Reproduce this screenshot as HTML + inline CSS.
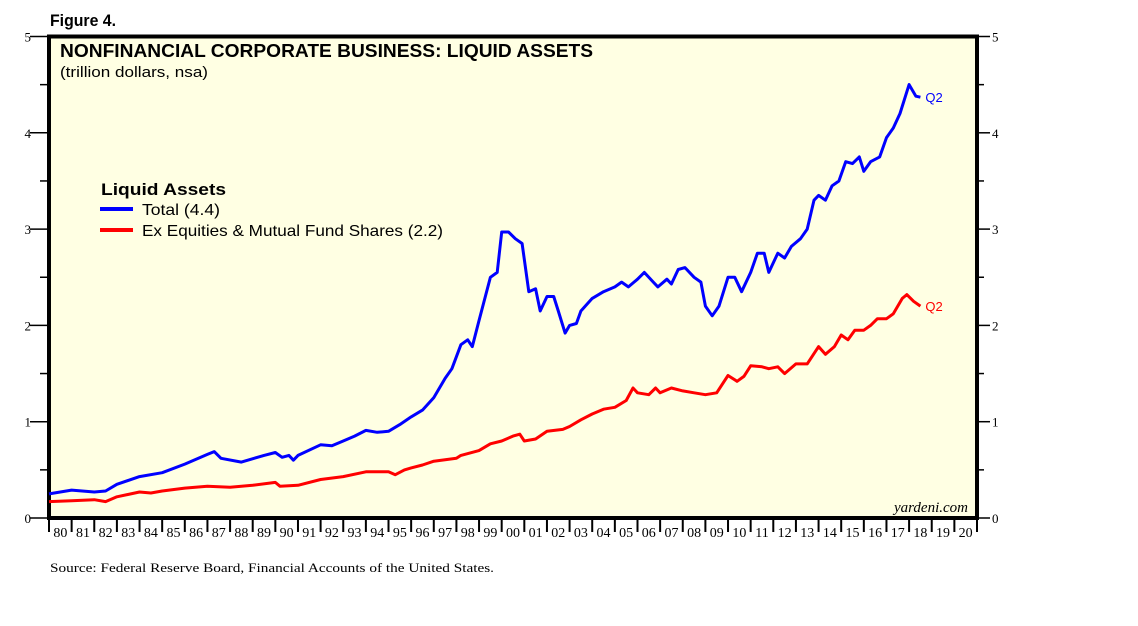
<!DOCTYPE html>
<html><head><meta charset="utf-8"><style>
body{margin:0;background:#fff;width:1138px;height:621px;overflow:hidden;font-family:"Liberation Sans",sans-serif}
svg text{font-family:"Liberation Sans",sans-serif}
.serif{font-family:"Liberation Serif",serif}
</style></head><body>
<svg id="chart" width="1138" height="621">
<text x="50" y="26" font-size="17" font-weight="bold" textLength="66" lengthAdjust="spacingAndGlyphs">Figure 4.</text>
<rect x="49" y="36.5" width="928" height="481.5" fill="#ffffe3" stroke="#000" stroke-width="4"/>
<text x="60" y="57" font-size="18" font-weight="bold" textLength="533" lengthAdjust="spacingAndGlyphs">NONFINANCIAL CORPORATE BUSINESS: LIQUID ASSETS</text>
<text x="60" y="77" font-size="15" textLength="148" lengthAdjust="spacingAndGlyphs">(trillion dollars, nsa)</text>
<text x="101" y="195" font-size="17" font-weight="bold" textLength="125" lengthAdjust="spacingAndGlyphs">Liquid Assets</text>
<line x1="100" y1="209" x2="133" y2="209" stroke="#0000ff" stroke-width="4"/>
<text x="142" y="215" font-size="16" textLength="78" lengthAdjust="spacingAndGlyphs">Total (4.4)</text>
<line x1="100" y1="230" x2="133" y2="230" stroke="#ff0000" stroke-width="4"/>
<text x="142" y="236" font-size="16" textLength="301" lengthAdjust="spacingAndGlyphs">Ex Equities &amp; Mutual Fund Shares (2.2)</text>
<text x="968" y="512" font-size="15" font-style="italic" text-anchor="end" class="serif">yardeni.com</text>
<text x="50" y="572" font-size="13" class="serif" textLength="444" lengthAdjust="spacingAndGlyphs">Source: Federal Reserve Board, Financial Accounts of the United States.</text>
<g id="axes"></g>
<g id="series"></g>
</svg>
<script>
const yTicks=[0,1,2,3,4,5];
const yearLabels=["80","81","82","83","84","85","86","87","88","89","90","91","92","93","94","95","96","97","98","99","00","01","02","03","04","05","06","07","08","09","10","11","12","13","14","15","16","17","18","19","20"];
const totalDates=[1980,1981,1982,1982.5,1983,1984,1985,1986,1987,1987.3,1987.6,1988.5,1989.5,1990,1990.3,1990.6,1990.8,1991,1992,1992.5,1993,1993.5,1994,1994.5,1995,1995.5,1996,1996.5,1997,1997.5,1997.8,1998.2,1998.5,1998.7,1999,1999.5,1999.8,2000,2000.3,2000.6,2000.9,2001.2,2001.5,2001.7,2002,2002.3,2002.5,2002.8,2003,2003.3,2003.5,2004,2004.5,2005,2005.3,2005.6,2006,2006.3,2006.7,2006.9,2007.3,2007.5,2007.8,2008.1,2008.5,2008.8,2009,2009.3,2009.6,2010,2010.3,2010.6,2011,2011.3,2011.6,2011.8,2012.2,2012.5,2012.8,2013.2,2013.5,2013.8,2014,2014.3,2014.6,2014.9,2015.2,2015.5,2015.8,2016,2016.3,2016.7,2017,2017.3,2017.6,2018,2018.3,2018.5];
const totalValues=[0.25,0.29,0.27,0.28,0.35,0.43,0.47,0.56,0.66,0.69,0.62,0.58,0.65,0.68,0.63,0.65,0.60,0.65,0.76,0.75,0.80,0.85,0.91,0.89,0.90,0.97,1.05,1.12,1.25,1.45,1.55,1.80,1.85,1.78,2.05,2.50,2.55,2.97,2.97,2.90,2.85,2.35,2.38,2.15,2.30,2.30,2.15,1.92,2.00,2.02,2.15,2.28,2.35,2.40,2.45,2.40,2.48,2.55,2.45,2.40,2.48,2.43,2.58,2.60,2.50,2.45,2.20,2.10,2.20,2.50,2.50,2.35,2.55,2.75,2.75,2.55,2.75,2.70,2.82,2.90,3.00,3.30,3.35,3.30,3.45,3.50,3.70,3.68,3.75,3.60,3.70,3.75,3.95,4.05,4.20,4.50,4.38,4.37];
const exDates=[1980,1981,1982,1982.5,1983,1984,1984.5,1985,1986,1987,1988,1989,1990,1990.2,1991,1992,1993,1994,1995,1995.3,1995.7,1996,1996.5,1997,1998,1998.2,1999,1999.5,2000,2000.5,2000.8,2001,2001.5,2002,2002.7,2003,2003.5,2004,2004.5,2005,2005.5,2005.8,2006,2006.5,2006.8,2007,2007.5,2008,2008.5,2009,2009.5,2010,2010.4,2010.7,2011,2011.5,2011.8,2012.2,2012.5,2013,2013.5,2014,2014.3,2014.7,2015,2015.3,2015.6,2016,2016.3,2016.6,2017,2017.3,2017.7,2017.9,2018.2,2018.5];
const exValues=[0.17,0.18,0.19,0.17,0.22,0.27,0.26,0.28,0.31,0.33,0.32,0.34,0.37,0.33,0.34,0.40,0.43,0.48,0.48,0.45,0.50,0.52,0.55,0.59,0.62,0.65,0.70,0.77,0.80,0.85,0.87,0.80,0.82,0.90,0.92,0.95,1.02,1.08,1.13,1.15,1.22,1.35,1.30,1.28,1.35,1.30,1.35,1.32,1.30,1.28,1.30,1.48,1.42,1.47,1.58,1.57,1.55,1.57,1.50,1.60,1.60,1.78,1.70,1.78,1.90,1.85,1.95,1.95,2.00,2.07,2.07,2.12,2.28,2.32,2.25,2.20];

const NS="http://www.w3.org/2000/svg";
const X0=49,X1=977,Y0=518,Y1=36.5,T0=1980,T1=2021;
function xs(t){return X0+(t-T0)/(T1-T0)*(X1-X0);}
function ys(v){return Y0-v/5*(Y0-Y1);}
function mk(tag,attrs,parent){const e=document.createElementNS(NS,tag);for(const k in attrs)e.setAttribute(k,attrs[k]);parent.appendChild(e);return e;}
const ax=document.getElementById('axes');
yTicks.forEach(v=>{
  const y=ys(v);
  let l=mk('line',{x1:30,x2:47,y1:y,y2:y,stroke:'#000','stroke-width':1.5},ax);
  
  
  let r=mk('line',{x1:979,x2:990,y1:y,y2:y,stroke:'#000','stroke-width':1.5},ax);
  
  
  let t=mk('text',{x:31,y:y+5,'font-size':13,'text-anchor':'end',class:'serif'},ax);t.textContent=v;
  
  
  let t2=mk('text',{x:992,y:y+5,'font-size':13,class:'serif'},ax);t2.textContent=v;
  
  
  if(v<5){const ym=ys(v+0.5);
    let m=mk('line',{x1:40,x2:47,y1:ym,y2:ym,stroke:'#000','stroke-width':1.5},ax);
    
    
    let m2=mk('line',{x1:979,x2:984,y1:ym,y2:ym,stroke:'#000','stroke-width':1.5},ax);
    
    }
});
yearLabels.forEach((lab,i)=>{
  const x=xs(T0+i);
  let tk=mk('line',{x1:x,x2:x,y1:519,y2:532,stroke:'#000','stroke-width':2},ax);
  
  
  let t=mk('text',{x:xs(T0+i+0.5),y:537,'font-size':14,'text-anchor':'middle',class:'serif'},ax);t.textContent=lab;
  
  
});
let tkEnd=mk('line',{x1:X1,x2:X1,y1:519,y2:532,stroke:'#000','stroke-width':2},ax);


const sg=document.getElementById('series');
function drawLine(dates,vals,color,name){
  const d=dates.map((t,i)=>(i?'L':'M')+xs(t).toFixed(1)+','+ys(vals[i]).toFixed(1)).join(' ');
  const p=mk('path',{d:d,fill:'none',stroke:color,'stroke-width':3,'stroke-linejoin':'round'},sg);
  
  
  const n=dates.length-1;
  const lb=mk('text',{x:xs(dates[n])+5,y:ys(vals[n])+5,'font-size':13,fill:color},sg);lb.textContent='Q2';
  
  
}
drawLine(exDates,exValues,'#ff0000','ex-equities-line');
drawLine(totalDates,totalValues,'#0000ff','total-line');
</script>
</body></html>
